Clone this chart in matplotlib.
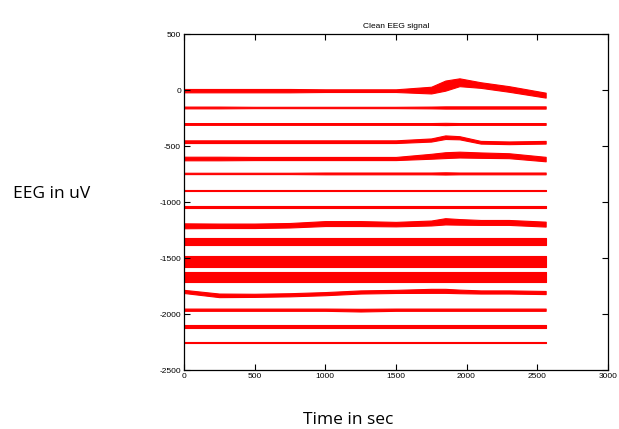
import matplotlib
matplotlib.use("Agg")
import matplotlib.pyplot as plt
import numpy as np

plt.rcParams["axes.unicode_minus"] = False
plt.rcParams["font.family"] = ["Liberation Sans", "DejaVu Sans"]

# channel offsets (uV), 16 channels stacked 150 uV apart
offsets = [0, -150, -300, -450, -600, -750, -900, -1050,
           -1200, -1350, -1500, -1650, -1800, -1950, -2100, -2250]

t_read = [0, 250, 500, 750, 1000, 1250, 1500, 1750, 1850, 1950, 2100, 2300, 2560]

# centre of each trace relative to its offset (uV)
centres = [
    [-5, -5, -5, -5, -5, -5, -5, 0, 40, 70, 45, 10, -45],
    [-5, -5, -5, -5, -5, -5, -5, -5, -5, -5, -5, -5, -5],
    [-2, -2, -2, -2, -2, -2, -2, -2, -2, -2, -2, -2, -2],
    [-10, -10, -10, -10, -10, -10, -10, 5, 30, 25, -15, -20, -15],
    [-10, -10, -10, -10, -10, -10, -10, 10, 20, 25, 20, 15, -15],
    [7, 7, 7, 7, 7, 7, 7, 7, 7, 7, 7, 7, 7],
    [7, 7, 7, 7, 7, 7, 7, 7, 7, 7, 7, 7, 7],
    [8, 8, 8, 8, 8, 8, 8, 8, 8, 8, 8, 8, 8],
    [-10, -10, -10, -5, 10, 10, 5, 15, 30, 25, 20, 20, 5],
    [0, 0, 0, 0, 0, 0, 0, 0, 0, 0, 0, 0, 0],
    [-25, -25, -25, -25, -25, -25, -25, -25, -25, -25, -25, -25, -25],
    [-18, -18, -18, -18, -18, -18, -18, -18, -18, -18, -18, -18, -18],
    [5, -30, -30, -25, -15, 0, 5, 10, 10, 5, 0, 0, -5],
    [-8, -8, -8, -8, -8, -12, -8, -8, -8, -8, -8, -8, -8],
    [-7, -7, -7, -7, -7, -7, -7, -7, -7, -7, -7, -7, -7],
    [-2, -2, -2, -2, -2, -2, -2, -2, -2, -2, -2, -2, -2],
]

# half width of the noise band (uV)
halfs = [
    [15, 15, 15, 15, 12, 12, 12, 30, 45, 35, 25, 25, 22],
    [8, 8, 6, 6, 6, 6, 6, 8, 10, 10, 10, 10, 10],
    [8, 8, 8, 8, 8, 8, 8, 8, 10, 8, 8, 8, 8],
    [12, 12, 12, 12, 12, 12, 12, 14, 16, 14, 12, 12, 12],
    [16, 16, 14, 14, 14, 14, 14, 22, 26, 26, 24, 22, 20],
    [6, 6, 6, 6, 8, 8, 8, 8, 10, 8, 8, 8, 8],
    [4, 4, 4, 4, 4, 4, 4, 4, 4, 4, 4, 4, 4],
    [7, 7, 7, 7, 7, 7, 7, 7, 7, 7, 7, 7, 7],
    [22, 20, 20, 20, 22, 22, 20, 22, 28, 25, 22, 22, 22],
    [28, 28, 28, 28, 28, 28, 28, 28, 28, 28, 28, 28, 28],
    [50, 50, 50, 50, 50, 50, 50, 50, 50, 50, 50, 50, 50],
    [45, 45, 45, 45, 45, 45, 45, 45, 45, 45, 45, 45, 45],
    [14, 16, 14, 14, 14, 14, 14, 18, 18, 16, 14, 14, 14],
    [10, 10, 10, 10, 10, 12, 10, 10, 10, 10, 10, 10, 10],
    [11, 11, 11, 11, 11, 11, 11, 11, 11, 11, 11, 11, 11],
    [6, 6, 6, 6, 6, 6, 6, 6, 6, 6, 6, 6, 6],
]

x_ticks = [0, 500, 1000, 1500, 2000, 2500, 3000]
y_ticks = [-2500, -2000, -1500, -1000, -500, 0, 500]

fig = plt.figure(figsize=(6.19, 4.29), dpi=100)
ax = fig.add_axes([0.297, 0.1364, 0.685, 0.7843])

t = np.array(t_read)
for off, c, h in zip(offsets, centres, halfs):
    mid = off + np.array(c)
    hw = np.array(h)
    ax.fill_between(t, mid - hw, mid + hw, color="red", linewidth=0.8)

ax.set_xlim(0, 3000)
ax.set_ylim(-2500, 500)
ax.set_xticks(x_ticks)
ax.set_yticks(y_ticks)
ax.tick_params(direction="in", top=True, right=True, labelsize=6,
               length=4, width=0.8, pad=2)
for s in ax.spines.values():
    s.set_linewidth(0.9)
ax.set_title("Clean EEG signal", fontsize=6, pad=4)

fig.text(0.021, 0.548, "EEG in uV", fontsize=12.5, family="Open Sans",
         ha="left", va="center")
fig.text(0.562, 0.022, "Time in sec", fontsize=12.5, family="Open Sans",
         ha="center", va="center")

fig.savefig("out.png", dpi=100)
